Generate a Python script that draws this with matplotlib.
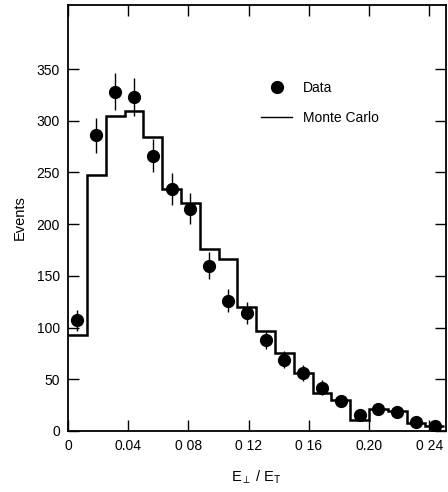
import matplotlib.pyplot as plt
from matplotlib.lines import Line2D

plt.rcParams['font.family'] = ['Liberation Sans', 'DejaVu Sans']
plt.rcParams['mathtext.fontset'] = 'custom'
plt.rcParams['mathtext.rm'] = 'Liberation Sans'
plt.rcParams['mathtext.it'] = 'Liberation Sans'

# bin edges of E_perp / E_T (width 0.0125)
bin_edges = [0.0, 0.0125, 0.025, 0.0375, 0.05, 0.0625, 0.075, 0.0875, 0.1, 0.1125,
             0.125, 0.1375, 0.15, 0.1625, 0.175, 0.1875, 0.2, 0.2125, 0.225, 0.2375, 0.25]
bin_centers = [0.00625, 0.01875, 0.03125, 0.04375, 0.05625, 0.06875, 0.08125, 0.09375,
               0.10625, 0.11875, 0.13125, 0.14375, 0.15625, 0.16875, 0.18125, 0.19375,
               0.20625, 0.21875, 0.23125, 0.24375]

monte_carlo = [93, 248, 305, 309, 284, 234, 220, 176, 166, 120,
               97, 75, 56, 37, 30, 11, 21, 19, 8, 5]
data_events = [107, 286, 328, 323, 266, 234, 215, 160, 126, 114,
               88, 69, 56, 42, 29, 15, 21, 18, 9, 5]
data_errors = [10, 17, 18, 18, 16, 15, 15, 13, 11, 11,
               9, 8, 8, 7, 5, 4, 5, 4, 3, 2]

x_ticks = [0, 0.04, 0.08, 0.12, 0.16, 0.20, 0.24]
x_tick_labels = ['0', '0.04', '0 08', '0 12', '0 16', '0.20', '0 24']
y_ticks = [0, 50, 100, 150, 200, 250, 300, 350]

fig = plt.figure(figsize=(4.48, 4.92), dpi=100)
ax = fig.add_axes([0.152, 0.124, 0.843, 0.866])

ax.stairs(monte_carlo, bin_edges, color='black', linewidth=1.8, baseline=None)
ax.errorbar(bin_centers, data_events, yerr=data_errors, fmt='o', color='black',
            markersize=8.5, elinewidth=1.0, capsize=0)

ax.set_xlim(0, 0.251)
ax.set_ylim(0, 412)
ax.set_xticks(x_ticks)
ax.set_xticklabels(x_tick_labels)
ax.set_yticks(y_ticks)
ax.tick_params(direction='in', length=8, width=1.0, labelsize=10,
               top=True, right=True, pad=6)
for s in ax.spines.values():
    s.set_linewidth(1.3)

ax.set_ylabel('Events', fontsize=10.5, labelpad=7)
ax.set_xlabel(r'$\mathregular{E_\perp\ /\ E_T}$', fontsize=10.5, labelpad=11)

handles = [Line2D([], [], marker='o', color='black', linestyle='none', markersize=8.5),
           Line2D([], [], color='black', linewidth=1.0)]
ax.legend(handles, ['Data', 'Monte Carlo'], frameon=False, fontsize=10,
          loc='upper left', bbox_to_anchor=(0.479, 0.85), handlelength=2.2,
          labelspacing=1.1, handletextpad=0.8)

fig.savefig('out.png', dpi=100)
